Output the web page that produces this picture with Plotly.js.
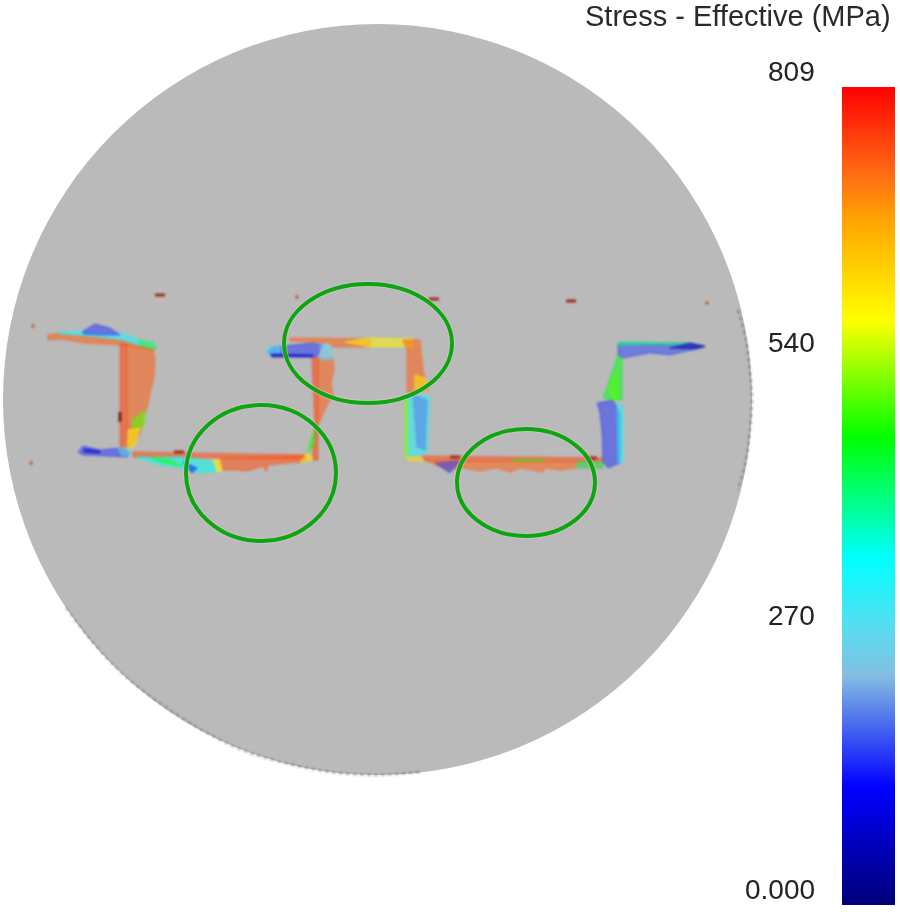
<!DOCTYPE html>
<html>
<head>
<meta charset="utf-8">
<script src="https://cdn.plot.ly/plotly-3.0.1.min.js"></script>
<style>html,body{margin:0;padding:0;background:#fff}
.scatterlayer{filter:blur(0.9px)}</style>
</head>
<body>
<div id="chart" style="width:900px;height:912px"></div>
<script>
var colorTitle = "Stress - Effective (MPa)";
var stressMin = 0;
var stressMax = 809;
var scaleTickValues = [0, 270, 540, 809];
var scaleTickLabels = ["0.000", "270", "540", "809"];
var scaleStops = [[0,"#000078"],[0.144,"#0000ff"],[0.28,"#82bee1"],[0.337,"#5adcf0"],[0.423,"#00ffff"],[0.572,"#00ff00"],[0.715,"#ffff00"],[0.836,"#ffa500"],[0.892,"#ff6e14"],[1,"#ff0000"]];

var regionStress = [735,320,420,150,
 760,735,500,590,
 150,60,270,
 750,350,470,130,590,745,600,
 760,470,735,
 150,290,60,250,
 735,590,
 735,600,320,190,520,620,
 750,730,150,400,470,
 150,320,450,500,
 160,400,40];
var regionX = [
 [48,60,90,123,155,120,85,60,48],
 [57,80,100,123,140,140,122,90,60],
 [138,153,157,150,140],
 [83,95,110,120,100,83],

 [120,127,127,120],
 [127,153,155,154,150,148,145,140,133,127],
 [132,145,145,138,133],
 [128,140,135,127],

 [78,83,100,120,130,127,107,83],
 [84,100,100,84],
 [118,128,132,122],

 [133,305,305,133],
 [137,187,213,217,197,183,160,137],
 [150,170,182,165],
 [183,197,192],
 [213,222,222,217],
 [220,305,307,300,268,266,264,247,238,223],
 [300,307,315,313],

 [312,318,318,313,313,315],
 [307,313,315,314],
 [318,333,334,331,333,328,318],

 [267,273,313,323,317,272],
 [267,280,280,268],
 [271,313,313,272],
 [320,332,332,320],

 [290,370,370,333,330,290],
 [345,370,413,413,370],

 [403,420,423,428,407,407],
 [415,425,428,415],
 [407,430,427,407],
 [413,427,425,417],
 [405,408,408,405],
 [405,423,423,410],

 [422,603,603,425],
 [427,447,463,480,497,510,520,543,545,560,577,603,603,427],
 [435,460,450],
 [577,603,603,577],
 [513,543,543,513],

 [597,613,620,620,608,603,602,600],
 [617,623,623,618],
 [603,618,622,622,613],
 [609,617,618,612],

 [618,665,690,705,670,650,623,618],
 [618,690,690,618],
 [670,690,705,695]
];
var regionY = [
 [335,333,337,340,350,345,343,339,340],
 [332,331,334,333,340,346,340,336,334],
 [340,342,349,349,346],
 [331,324,328,335,335,334],

 [344,344,450,448],
 [345,350,360,377,393,405,413,433,445,450],
 [420,410,425,430,428],
 [430,428,445,450],

 [452,446,450,448,453,457,456,455],
 [449,451,453,452],
 [448,447,455,456],

 [452,455,459,457],
 [457,457,462,472,473,468,465,458],
 [458,460,466,463],
 [462,468,473],
 [460,460,471,472],
 [458,456,459,462,465,472,466,471,470,470],
 [462,453,458,460],

 [358,358,460,460,445,425],
 [453,433,427,445],
 [358,358,370,382,395,403,425],

 [352,347,343,345,357,356],
 [348,346,353,354],
 [354,355,357,357],
 [345,345,360,360],

 [338,339,347,347,343,341],
 [342,338,339,347,347],

 [340,340,370,390,393,350],
 [375,378,388,392],
 [393,397,453,457],
 [395,400,450,447],
 [400,400,457,457],
 [457,457,461,461],

 [456,458,462,461],
 [461,470,468,471,468,472,468,472,468,470,468,468,462,461],
 [463,461,473],
 [462,462,468,468],
 [460,460,461,461],

 [403,400,413,463,468,462,433,413],
 [403,407,462,463],
 [398,355,357,400,400],
 [385,370,400,400],

 [343,343,343,347,355,353,358,355],
 [342,343,344,345],
 [348,343,346,349]
];
var specksWideX = [160,434,571,179,455,592];
var specksWideY = [295,299,301,452,457,458];
var specksDotX = [297,707,33,31];
var specksDotY = [297,303,326,463];
var specksTallX = [120];
var specksTallY = [417];
var scaleSampleX = [160,297,434,571];
var scaleSampleY = [295,297,299,301];
var scaleSampleStress = [0,270,540,809];

var discLeft = 3, discRight = 752, discTop = 24, discBottom = 775;
var edgeX = [66,88,118,142,173,207,247,293,330,377,420];
var edgeY = [608,637,670,690,712,733,752,765,772,775,772];
var edgeRightX = [738,746,750,752,750,746,738];
var edgeRightY = [310,340,370,398,430,460,490];
var ringLeft = [284,186,457];
var ringRight = [452,336,595];
var ringTop = [284,405,429];
var ringBottom = [403,541,536];

var W = 900, H = 912;
var barTop = 87, barBottom = 905, barLeft = 842, barWidth = 53;

function hexRgb(h){return [parseInt(h.substr(1,2),16),parseInt(h.substr(3,2),16),parseInt(h.substr(5,2),16)];}
function stressColor(v){
  var f=(v-stressMin)/(stressMax-stressMin);
  for(var i=1;i<scaleStops.length;i++){
    if(f<=scaleStops[i][0]){
      var a=scaleStops[i-1],b=scaleStops[i],t=(f-a[0])/(b[0]-a[0]);
      var p=hexRgb(a[1]),q=hexRgb(b[1]);
      return [0,1,2].map(function(k){return Math.round(p[k]+(q[k]-p[k])*t);});
    }
  }
  return hexRgb(scaleStops[scaleStops.length-1][1]);
}
var traces = [];
regionStress.forEach(function(v,i){
  var c=stressColor(v);
  var col='rgba('+c[0]+','+c[1]+','+c[2]+',0.55)';
  traces.push({type:'scatter',mode:'lines',x:regionX[i].concat(regionX[i][0]),y:regionY[i].concat(regionY[i][0]),
    fill:'toself',fillcolor:col,line:{color:col,width:1},hoverinfo:'skip',showlegend:false});
});
function edge(x,y){return {type:'scatter',mode:'lines',x:x,y:y,showlegend:false,hoverinfo:'skip',line:{color:'#444',width:1,dash:'4px,3px',shape:'spline'}};}
traces.push(edge(edgeX,edgeY));
traces.push(edge(edgeRightX,edgeRightY));
function speck(x,y,sym,size,col,w){return {type:'scatter',mode:'markers',x:x,y:y,showlegend:false,hoverinfo:'skip',
  marker:{symbol:sym,size:size,color:col,line:{color:col,width:w}}};}
traces.push(speck(specksWideX,specksWideY,'line-ew',7,'#a02a1e',3));
traces.push(speck(specksDotX,specksDotY,'square',3,'#b0602a',0));
traces.push(speck(specksTallX,specksTallY,'line-ns',7,'#6e1e14',3));
traces.push({type:'scatter',mode:'markers',x:scaleSampleX,y:scaleSampleY,showlegend:false,hoverinfo:'skip',
  marker:{symbol:'square',size:1,opacity:0,color:scaleSampleStress,cmin:stressMin,cmax:stressMax,colorscale:scaleStops,
    colorbar:{x:barLeft/W,xref:'paper',xanchor:'left',y:1-barBottom/H,yref:'paper',yanchor:'bottom',
      len:barBottom-barTop,lenmode:'pixels',thickness:barWidth,thicknessmode:'pixels',xpad:0,ypad:0,
      outlinewidth:0,borderwidth:0,ticks:'',showticklabels:false,tickvals:scaleTickValues}}});

var shapes=[{type:'circle',xref:'x',yref:'y',x0:discLeft,x1:discRight,y0:discTop,y1:discBottom,layer:'below',
  fillcolor:'#bababa',line:{width:0}}];
ringLeft.forEach(function(l,i){
  shapes.push({type:'circle',xref:'x',yref:'y',x0:l,x1:ringRight[i],y0:ringTop[i],y1:ringBottom[i],layer:'above',
    fillcolor:'rgba(0,0,0,0)',line:{color:'rgba(235,190,235,0.55)',width:6}});
  shapes.push({type:'circle',xref:'x',yref:'y',x0:l,x1:ringRight[i],y0:ringTop[i],y1:ringBottom[i],layer:'above',
    fillcolor:'rgba(0,0,0,0)',line:{color:'#0aa80a',width:4}});
});
var annotations=[{xref:'paper',yref:'paper',x:893/W,y:1-16/H,xanchor:'right',yanchor:'middle',showarrow:false,text:colorTitle,
  font:{family:'Liberation Sans, Arial, sans-serif',size:29,color:'#2a2a2a'}}];
scaleTickValues.forEach(function(v,i){
  var py=barBottom-(v-stressMin)/(stressMax-stressMin)*(barBottom-barTop);
  annotations.push({xref:'paper',yref:'paper',x:815/W,y:1-(py-16)/H,xanchor:'right',yanchor:'middle',showarrow:false,text:scaleTickLabels[i],
    font:{family:'Liberation Sans, Arial, sans-serif',size:28,color:'#222'},borderpad:0,borderwidth:0});
});
var layout={width:W,height:H,margin:{l:0,r:0,t:0,b:0},paper_bgcolor:'#fff',plot_bgcolor:'#fff',showlegend:false,
  xaxis:{range:[0,W],visible:false,fixedrange:true},yaxis:{range:[H,0],visible:false,fixedrange:true},
  shapes:shapes,annotations:annotations};
Plotly.newPlot('chart',traces,layout,{displayModeBar:false,staticPlot:true});
</script>
</body>
</html>
